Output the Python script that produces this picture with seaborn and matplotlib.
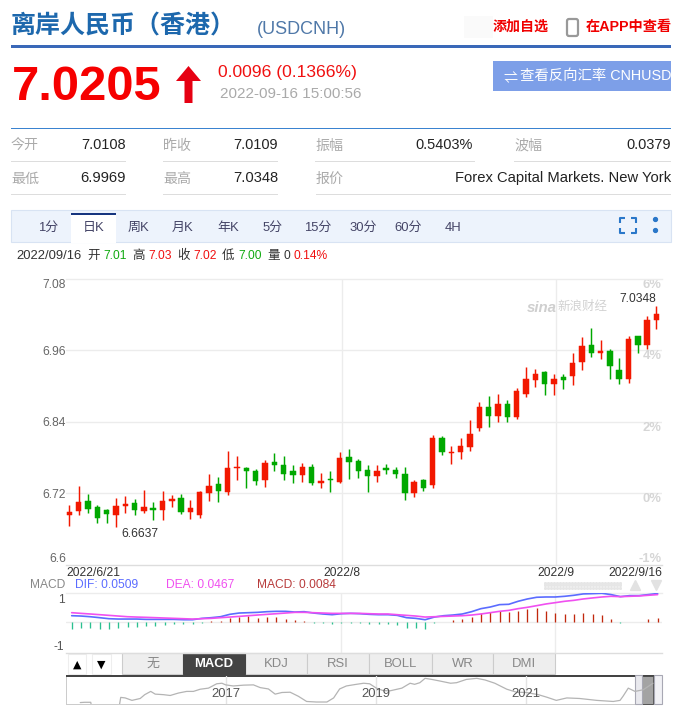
import matplotlib
matplotlib.use('Agg')
import matplotlib.pyplot as plt
from matplotlib.patches import Rectangle, Polygon, FancyBboxPatch
import numpy as np
import pandas as pd
import seaborn as sns

sns.set_theme(style='white')
plt.rcParams['font.family'] = ['Liberation Sans', 'Noto Sans CJK SC', 'DejaVu Sans']

# daily candles, 2022/6/21 to 2022/9/16
opens = [6.684, 6.691, 6.708, 6.698, 6.693, 6.684, 6.699, 6.704, 6.691, 6.696, 6.693, 6.708, 6.713, 6.689, 6.684, 6.721,
         6.736, 6.723, 6.763, 6.763, 6.758, 6.743, 6.773, 6.768, 6.758, 6.751, 6.765, 6.738, 6.744, 6.740, 6.782, 6.774,
         6.759, 6.749, 6.762, 6.759, 6.752, 6.721, 6.742, 6.734, 6.813, 6.788, 6.789, 6.798, 6.830, 6.866, 6.850, 6.870,
         6.848, 6.887, 6.910, 6.924, 6.903, 6.915, 6.917, 6.940, 6.969, 6.955, 6.959, 6.927, 6.913, 6.984, 6.969, 7.0108]
highs = [6.700, 6.733, 6.719, 6.701, 6.694, 6.713, 6.716, 6.711, 6.726, 6.705, 6.724, 6.718, 6.719, 6.709, 6.725, 6.753,
         6.747, 6.791, 6.783, 6.764, 6.761, 6.776, 6.788, 6.783, 6.767, 6.772, 6.770, 6.755, 6.758, 6.790, 6.795, 6.778,
         6.767, 6.768, 6.770, 6.764, 6.764, 6.742, 6.744, 6.819, 6.817, 6.799, 6.813, 6.844, 6.874, 6.884, 6.887, 6.877,
         6.897, 6.932, 6.929, 6.925, 6.920, 6.920, 6.955, 6.982, 6.997, 6.977, 6.962, 6.948, 6.984, 6.984, 7.018, 7.0348]
lows = [6.666, 6.684, 6.688, 6.671, 6.671, 6.6637, 6.687, 6.684, 6.688, 6.676, 6.676, 6.697, 6.686, 6.678, 6.679, 6.708,
        6.706, 6.718, 6.742, 6.730, 6.735, 6.731, 6.757, 6.743, 6.738, 6.740, 6.734, 6.730, 6.723, 6.738, 6.744, 6.746,
        6.723, 6.740, 6.753, 6.746, 6.709, 6.714, 6.724, 6.729, 6.784, 6.769, 6.778, 6.791, 6.825, 6.831, 6.840, 6.840,
        6.845, 6.882, 6.898, 6.885, 6.885, 6.895, 6.902, 6.927, 6.949, 6.945, 6.912, 6.904, 6.905, 6.955, 6.962, 6.9969]
closes = [6.689, 6.706, 6.694, 6.679, 6.686, 6.699, 6.703, 6.693, 6.698, 6.693, 6.708, 6.711, 6.689, 6.696, 6.723, 6.733,
          6.725, 6.762, 6.764, 6.758, 6.741, 6.772, 6.767, 6.753, 6.751, 6.765, 6.738, 6.741, 6.743, 6.780, 6.773, 6.757,
          6.749, 6.757, 6.759, 6.752, 6.721, 6.739, 6.729, 6.813, 6.789, 6.789, 6.799, 6.820, 6.866, 6.850, 6.870, 6.848,
          6.892, 6.912, 6.920, 6.903, 6.913, 6.910, 6.939, 6.967, 6.955, 6.959, 6.934, 6.913, 6.980, 6.970, 7.011, 7.0205]

dif = [.0118, .0112, .0100, .0083, .0065, .0059, .0059, .0059, .0053, .0053, .0053, .0053, .0047, .0047, .0071, .0083,
       .0100, .0142, .0165, .0171, .0177, .0189, .0195, .0195, .0183, .0189, .0165, .0148, .0136, .0153, .0159, .0153,
       .0142, .0136, .0136, .0124, .0083, .0071, .0047, .0094, .0118, .0130, .0148, .0189, .0242, .0271, .0313, .0319,
       .0372, .0413, .0443, .0448, .0448, .0460, .0478, .0502, .0507, .0513, .0490, .0454, .0472, .0472, .0490, .0509]
dea = [.0171, .0159, .0148, .0136, .0124, .0112, .0100, .0094, .0089, .0083, .0077, .0071, .0065, .0059, .0065, .0071,
       .0083, .0094, .0106, .0118, .0130, .0142, .0153, .0165, .0177, .0177, .0171, .0165, .0159, .0159, .0159, .0159,
       .0153, .0148, .0148, .0136, .0124, .0112, .0094, .0100, .0106, .0112, .0118, .0130, .0148, .0171, .0195, .0212,
       .0242, .0266, .0295, .0325, .0348, .0372, .0389, .0413, .0431, .0448, .0460, .0454, .0460, .0466, .0478, .0490]
macd = [-.0118, -.0106, -.0100, -.0118, -.0118, -.0094, -.0077, -.0077, -.0065, -.0059, -.0047, -.0030, -.0035, -.0035, -.0006, .0024,
        .0024, .0077, .0100, .0112, .0083, .0094, .0094, .0065, .0035, .0024, -.0006, -.0018, -.0035, -.0006, -.0002, -.0012,
        -.0035, -.0035, -.0035, -.0053, -.0094, -.0100, -.0112, -.0006, .0012, .0041, .0065, .0100, .0165, .0183, .0201, .0177,
        .0207, .0236, .0260, .0201, .0171, .0142, .0142, .0165, .0148, .0124, .0059, -.0012, .0006, .0002, .0053, .0084]

price_ticks = [7.08, 6.96, 6.84, 6.72, 6.6]
price_labels = ['7.08', '6.96', '6.84', '6.72', '6.6']
pct_labels = ['6%', '4%', '2%', '0%', '-1%']
month_idx = [29, 52]
month_labels = ['2022/8', '2022/9']

# overview strip under the chart
hist_year = [2015.06, 2015.12, 2015.20, 2015.21, 2015.58, 2015.60, 2015.66, 2015.75, 2015.86, 2015.92, 2016.00, 2016.06,
             2016.17, 2016.26, 2016.37, 2016.48, 2016.57, 2016.66, 2016.77, 2016.88, 2016.95, 2017.00, 2017.10, 2017.24,
             2017.37, 2017.46, 2017.57, 2017.66, 2017.75, 2017.86, 2017.97, 2018.08, 2018.21, 2018.35, 2018.44, 2018.52,
             2018.61, 2018.72, 2018.84, 2018.92, 2019.01, 2019.10, 2019.19, 2019.35, 2019.46, 2019.52, 2019.59, 2019.66,
             2019.75, 2019.86, 2020.00, 2020.08, 2020.21, 2020.35, 2020.46, 2020.59, 2020.75, 2020.88, 2021.01, 2021.17,
             2021.28, 2021.41, 2021.55, 2021.72, 2021.95, 2022.17, 2022.26, 2022.30, 2022.37, 2022.46, 2022.57, 2022.70]
hist_rate = [6.28, 6.29, 6.29, 6.14, 6.14, 6.47, 6.45, 6.36, 6.43, 6.57, 6.69, 6.59,
             6.57, 6.54, 6.63, 6.69, 6.69, 6.77, 6.81, 6.97, 6.99, 6.93, 6.89, 6.92,
             6.93, 6.83, 6.78, 6.59, 6.65, 6.66, 6.51, 6.32, 6.30, 6.30, 6.45, 6.78,
             6.89, 6.94, 6.99, 6.97, 6.81, 6.72, 6.71, 6.81, 6.99, 6.95, 7.01, 7.17,
             7.13, 7.07, 6.99, 7.01, 7.13, 7.17, 7.11, 6.99, 6.77, 6.66, 6.65, 6.57,
             6.48, 6.36, 6.45, 6.43, 6.36, 6.32, 6.36, 6.51, 6.81, 6.69, 6.75, 6.99]
hist_ticks = [2017, 2019, 2021]

W, H = 683, 711
RED = '#f21800'
GREEN = '#00a800'
GRID = '#ececec'


def px(size):
    return size * 0.72


def panel(x0, y0, x1, y1):
    # axes placed by pixel box, y counted from the top of the picture
    a = fig.add_axes([x0 / W, 1 - y1 / H, (x1 - x0) / W, (y1 - y0) / H])
    a.patch.set_alpha(0)
    return a


def txt(x, y, s, size=13, color='#333333', ha='left', weight='normal', **kw):
    bg.text(x, y, s, fontsize=px(size), color=color, ha=ha, va='center', fontweight=weight, **kw)


fig = plt.figure(figsize=(W / 100, H / 100), dpi=100)
bg = fig.add_axes([0, 0, 1, 1])
bg.set_xlim(0, W)
bg.set_ylim(H, 0)
bg.axis('off')


def box(x0, y0, x1, y1, fc, ec='none', lw=0, z=1):
    bg.add_patch(Rectangle((x0, y0), x1 - x0, y1 - y0, facecolor=fc, edgecolor=ec, linewidth=lw, zorder=z))


# page header
txt(11, 27, '离岸人民币（香港）', 25, '#1d68ad', weight='bold')
txt(257, 30, '(USDCNH)', 18, '#4f78a8')
box(464, 16, 493, 38, '#fafafa')
txt(493, 27, '添加自选', 14, '#f00000', weight='bold')
bg.add_patch(FancyBboxPatch((567, 19), 11, 17, boxstyle='round,pad=0,rounding_size=2', fc='white', ec='#999999', lw=1.6))
txt(586, 27, '在APP中查看', 14.2, '#f00000', weight='bold')
box(11, 45, 671, 48, '#3a68b8')

txt(12, 88, '7.0205', 49, '#f60000', weight='bold')
bg.add_patch(Polygon([(188.5, 66), (201, 81), (192.5, 81), (192.5, 103), (184.5, 103), (184.5, 81), (176, 81)], fc='#e60012', ec='none'))
txt(218, 73, '0.0096 (0.1366%)', 17.5, '#f01010')
txt(220, 94, '2022-09-16 15:00:56', 15.2, '#aaaaaa')
box(493, 61, 671, 91, '#7d9fe8')
txt(504, 78, '⇌', 14, 'white')
txt(520, 76, '查看反向汇率 CNHUSD', 14.4, 'white')
box(11, 127.5, 671, 128.5, '#3a83d0')

# quote table
for x, lab, vx, val in [(11, '今开', 126, '7.0108'), (163, '昨收', 278, '7.0109'),
                        (315, '振幅', 473, '0.5403%'), (514, '波幅', 671, '0.0379')]:
    txt(x, 146, lab, 14, '#aaaaaa')
    txt(vx, 145, val, 14.5, '#222222', ha='right')
    box(x, 161, vx + (2 if vx == 473 else 0), 162, '#dddddd')
for x, lab, vx, val in [(11, '最低', 126, '6.9969'), (163, '最高', 278, '7.0348'),
                        (316, '报价', 671, 'Forex Capital Markets. New York')]:
    txt(x, 179, lab, 14, '#aaaaaa')
    txt(vx, 178, val, 14.7, '#222222', ha='right')
    box(x, 194, vx, 195, '#dddddd')

# period tabs
box(11, 210, 671, 242, '#edf3fc', '#d8e3f3', 0.8)
box(71, 214, 116, 243, 'white', z=2)
box(71, 213, 116, 215, '#16357f', z=3)
for cx, lab in zip([48, 94, 138, 183, 228, 273, 318, 363, 408, 453],
                   ['1分', '日K', '周K', '月K', '年K', '5分', '15分', '30分', '60分', '4H']):
    bg.text(cx, 228, lab, fontsize=px(13), color='#444466', ha='center', va='center', zorder=4)
for (xs, ys) in [((620, 620, 625), (223, 218, 218)), ((631, 636, 636), (218, 218, 223)),
                 ((620, 620, 625), (228, 233, 233)), ((631, 636, 636), (233, 233, 228))]:
    bg.plot(xs, ys, color='#2a77c9', lw=1.5, solid_capstyle='butt')
bg.plot([655, 655], [219, 230], ls='none', marker='o', ms=2.8, color='#2a77c9')

# summary line above the chart
for x, s, c, sz in [(16, '2022/09/16', '#333333', 13), (87, '开', '#333333', 12.5), (103, '7.01', '#11aa11', 12),
                    (132, '高', '#333333', 12.5), (148, '7.03', '#f01010', 12), (177, '收', '#333333', 12.5),
                    (193, '7.02', '#f01010', 12), (222, '低', '#333333', 12.5), (238, '7.00', '#11aa11', 12),
                    (267, '量', '#333333', 12.5), (283, '0', '#333333', 12), (294, '0.14%', '#f01010', 12)]:
    txt(x, 256, s, sz, c)

# candles
df = pd.DataFrame({'open': opens, 'high': highs, 'low': lows, 'close': closes})
df['idx'] = df.index
df['color'] = np.where(df['close'] >= df['open'], RED, GREEN)

ax = panel(66, 279, 661.7, 565)
ax.set_xlim(-0.354, 63.56)
ax.set_ylim(6.6, 7.08)
sns.despine(ax=ax, left=True, right=True, top=False, bottom=False)
for s in ['top', 'bottom']:
    ax.spines[s].set_color(GRID)
    ax.spines[s].set_linewidth(1)
ax.spines['bottom'].set_color('#dddddd')
ax.set_xticks([])
ax.set_yticks(price_ticks)
ax.set_yticklabels(price_labels, fontsize=px(12), color='#666666')
ax.tick_params(axis='y', length=0, pad=0)
ax.get_yticklabels()[0].set_va('top')
ax.get_yticklabels()[-1].set_va('bottom')
for v in price_ticks[1:-1]:
    ax.axhline(v, color=GRID, lw=1, zorder=0)
for i in month_idx:
    ax.axvline(i + 0.22, color=GRID, lw=1, zorder=0)
yax = ax.get_yaxis_transform()
for v, lab in zip(price_ticks, pct_labels):
    ax.text(1.0, v, lab, transform=yax, ha='right', va='bottom' if lab == '-1%' else 'top',
            fontsize=px(13), color='#d6d6d6', fontweight='bold', zorder=1)

ax.vlines(df['idx'], df['low'], df['high'], colors=df['color'], lw=1.05, zorder=3)
ax.bar(df['idx'], (df['close'] - df['open']).abs(), bottom=df[['open', 'close']].min(axis=1),
       width=0.58, color=df['color'], edgecolor=df['color'], linewidth=0.35, zorder=4)

low_i = df['low'].idxmin()
high_i = df['high'].idxmax()
ax.annotate(f"{df['low'][low_i]:.4f}", (low_i, df['low'][low_i]), xytext=(4, -1), textcoords='offset points',
            fontsize=px(12), color='#333333', va='top', ha='left')
ax.annotate(f"{df['high'][high_i]:.4f}", (high_i, df['high'][high_i]), xytext=(0, 1), textcoords='offset points',
            fontsize=px(12), color='#333333', va='bottom', ha='right')

# sina mark
txt(527, 308, 'sina', 15, '#cfcfcf', weight='bold', style='italic')
txt(557, 307, '新浪财经', 12.5, '#d2d2d2')

txt(66, 573, '2022/6/21', 12, '#333333')
txt(342, 573, month_labels[0], 12, '#333333', ha='center')
txt(556, 573, month_labels[1], 12, '#333333', ha='center')
txt(662, 573, '2022/9/16', 12, '#333333', ha='right')

# macd panel
txt(30, 585, 'MACD', 12, '#888888')
txt(75, 585, 'DIF: 0.0509', 12, '#5b6cff')
txt(166, 585, 'DEA: 0.0467', 12, '#f050f0')
txt(257, 585, 'MACD: 0.0084', 12, '#b83c3c')
for yy in [582.5, 585, 587.5]:
    bg.plot(np.arange(545, 623, 3), [yy] * 26, ls='none', marker='s', ms=1.1, color='#e6e6e6')
bg.plot([635], [585], marker='^', ms=7, color='#e2e2e2')
bg.plot([656], [585], marker='v', ms=7, color='#e2e2e2')

mx = panel(66, 593.3, 661.7, 652.5)
mx.set_xlim(-0.613, 63.44)
mx.set_ylim(-0.0531, 0.0513)
sns.despine(ax=mx, left=True, right=True, top=False, bottom=False)
for s in ['top', 'bottom']:
    mx.spines[s].set_color(GRID)
    mx.spines[s].set_linewidth(1)
mx.spines['bottom'].set_color('#dddddd')
mx.set_xticks([])
mx.set_yticks([0.0415, -0.0415])
mx.set_yticklabels(['1', '-1'], fontsize=px(12), color='#555555')
mx.tick_params(axis='y', length=0, pad=1)
mx.axhline(0, color=GRID, lw=1, zorder=0)
for i in month_idx:
    mx.axvline(i, color=GRID, lw=1, zorder=0)
bar_color = ['#c1280d' if m > 0 else '#2bc08f' for m in macd]
mx.vlines(range(len(macd)), 0, macd, colors=bar_color, lw=0.95, zorder=2)
line_df = pd.DataFrame({'idx': range(len(dif)), 'DIF': dif, 'DEA': dea}).melt('idx', var_name='name', value_name='value')
sns.lineplot(data=line_df, x='idx', y='value', hue='name', palette={'DIF': '#5b6cff', 'DEA': '#f050f0'},
             lw=1.2, legend=False, ax=mx, zorder=3)
mx.set_xlabel('')
mx.set_ylabel('')

# indicator buttons
for x0, x1, s in [(68, 86, '▲'), (92, 111, '▼')]:
    box(x0, 654, x1, 674, 'white', '#eeeeee', 0.8)
    txt((x0 + x1) / 2, 664.5, s, 11, 'black', ha='center', family=['DejaVu Sans'])
for x0, x1, s in [(122, 183, '无'), (245, 307, 'KDJ'), (307, 369, 'RSI'), (369, 432, 'BOLL'),
                  (432, 493, 'WR'), (493, 555, 'DMI')]:
    box(x0, 653, x1, 674, '#eeeeee', '#cccccc', 0.8)
    txt((x0 + x1) / 2, 664, s, 13, '#888888', ha='center')
box(183, 653, 245, 674, '#444444', '#444444', 0.8)
txt(214, 664, 'MACD', 13, 'white', ha='center', weight='bold')

# overview strip
ox = panel(66, 676, 662, 704)
ox.set_xlim(2014.87, 2022.82)
ox.set_ylim(6.227, 7.256)
sns.despine(ax=ox, left=True, bottom=True, top=True, right=True)
ox.set_yticks([])
ox.set_xticks([])
for yr in hist_ticks:
    ox.axvline(yr, color='#e4e4e4', lw=1, zorder=0)
    ox.text(yr, 6.6, str(yr), fontsize=px(13), color='#555555', ha='center', va='center', zorder=2)
sns.lineplot(x=hist_year, y=hist_rate, color='#b4b4b4', lw=0.9, ax=ox, zorder=1)
ox.set_xlabel('')
ox.set_ylabel('')
box(66, 703.5, 662, 704.5, '#cccccc')
box(66, 676, 67, 704, '#cccccc')
box(66, 674.5, 660, 676.5, '#444444', z=5)
box(642.3, 676, 653.3, 704, '#a3a3a3', '#444444', 0.6, z=5)
box(635.3, 675, 642.3, 704, '#e9e9ee', '#a8a8b4', 0.8, z=5)
box(654.3, 675, 661.7, 704, '#f1f1f5', '#a8a8b4', 0.8, z=5)

fig.savefig('out.png', dpi=100)
